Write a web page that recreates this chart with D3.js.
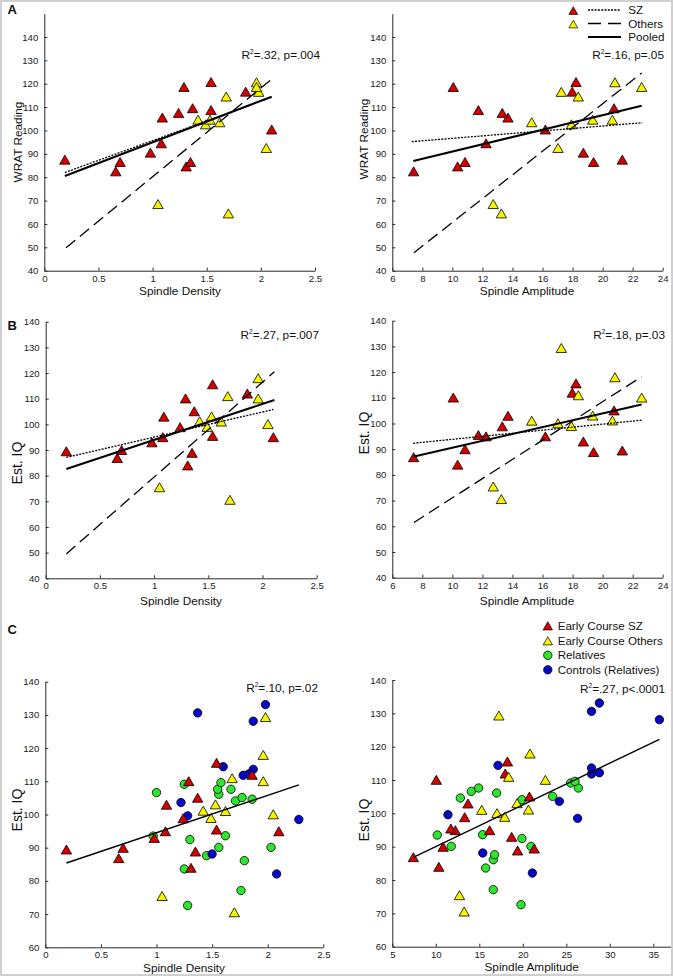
<!DOCTYPE html>
<html><head><meta charset="utf-8">
<script src="https://cdn.jsdelivr.net/npm/d3@7"></script>
<style>
html,body{margin:0;padding:0;background:#fff;}
svg{display:block;font-family:"Liberation Sans",Arial,Helvetica,sans-serif;}
</style></head>
<body>
<svg id="fig" width="673" height="976"></svg>
<script>
// ---------------- DATA ----------------
// Early course SZ subjects
const szDensity   = [0.19, 0.66, 0.70, 0.98, 1.08, 1.09, 1.24, 1.29, 1.31, 1.35, 1.37, 1.54, 1.54, 1.86, 2.10];
const szAmplitude = [21.31, 7.42, 10.84, 18.72, 12.24, 13.70, 13.32, 10.06, 10.35, 19.40, 20.76, 18.23, 11.73, 17.98, 16.19];
const szWrat      = [87.3, 82.3, 86.3, 90.3, 94.3, 105.3, 107.3, 118.4, 84.4, 86.3, 109.3, 120.5, 108.5, 116.4, 100.2];
const szIQ        = [89.3, 86.7, 89.8, 92.8, 94.8, 102.8, 98.7, 109.9, 83.8, 88.7, 104.9, 115.4, 95.3, 111.8, 94.8];
// Early course other-diagnosis subjects
const othDensity   = [1.05, 1.70, 2.05, 1.98, 1.49, 1.68, 1.62, 1.42, 1.53, 1.96, 1.96];
const othAmplitude = [12.72, 13.26, 17.03, 17.25, 17.92, 18.38, 15.28, 20.65, 19.34, 20.82, 22.60];
const othWrat      = [68.3, 64.3, 92.3, 116.3, 102.4, 114.3, 103.3, 104.4, 104.4, 120.4, 118.4];
const othIQ        = [75.3, 70.4, 99.9, 129.2, 98.8, 110.8, 100.9, 101.0, 102.9, 117.8, 109.9];
const othNotShownInBDensity = [3]; // subject not plotted in panel B (density)
// Relatives
const relDensity   = [1.28, 1.76, 1.25, 1.79, 1.45, 1.56, 2.03, 1.30, 0.97, 1.62, 1.71, 1.86, 1.77, 1.56, 1.00, 1.55, 1.67, 1.25, 1.58];
const relAmplitude = [19.79, 16.61, 15.73, 16.61, 16.76, 11.78, 20.94, 19.90, 10.17, 15.38, 19.90, 12.82, 23.43, 16.99, 14.08, 14.92, 26.38, 25.50, 26.00];
const relIQ        = [72.6, 77.1, 83.6, 86.1, 87.6, 90.1, 90.1, 92.45, 93.5, 93.6, 104.1, 104.6, 105.1, 106.1, 106.6, 107.6, 107.6, 109.1, 109.6];
// Controls (relatives)
const conDensity   = [2.08, 1.50, 2.28, 1.28, 1.22, 1.78, 1.83, 1.87, 1.60, 1.87, 1.37, 1.98];
const conAmplitude = [21.1, 15.4, 26.3, 11.4, 24.2, 27.9, 28.8, 27.9, 17.15, 35.7, 27.9, 28.8];
const conIQ        = [82.1, 88.1, 98.5, 99.6, 103.6, 111.8, 112.2, 113.6, 114.4, 128.1, 130.6, 133.1];

// Regression line endpoints [[x0,y0],[x1,y1]]
const fitA_dens = {sz:[[0.19,82.0],[2.10,114.2]], oth:[[0.20,49.8],[2.09,121.6]], pooled:[[0.19,80.5],[2.10,114.5]]};
const fitA_amp  = {sz:[[7.29,95.2],[22.64,103.3]], oth:[[7.44,47.7],[22.6,124.6]], pooled:[[7.40,86.9],[22.6,110.6]]};
const fitB_dens = {sz:[[0.19,87.1],[2.10,105.8]], oth:[[0.19,49.5],[2.11,120.5]], pooled:[[0.19,82.6],[2.11,109.5]]};
const fitB_amp  = {sz:[[7.38,92.3],[22.6,101.3]], oth:[[7.44,61.5],[22.6,118.2]], pooled:[[7.38,87.1],[22.6,107.4]]};
const fitC_dens = [[0.19,85.4],[2.28,108.9]];
const fitC_amp  = [[7.41,86.8],[35.7,122.2]];

// Ticks
const densityTicks = [0, 0.5, 1, 1.5, 2, 2.5];
const ampTicksAB   = [6, 8, 10, 12, 14, 16, 18, 20, 22, 24];
const ampTicksC    = [5, 10, 15, 20, 25, 30, 35];
const scoreTicksAB = [40, 50, 60, 70, 80, 90, 100, 110, 120, 130, 140];
const scoreTicksC  = [60, 70, 80, 90, 100, 110, 120, 130, 140];

// Stats text
const statsText = {Ad:[".32", "p=.004"], Aa:[".16", "p=.05"], Bd:[".27", "p=.007"], Ba:[".18", "p=.03"], Cd:[".10", "p=.02"], Ca:[".27", "p<.0001"]};

// Legend labels
const legendALabels = ["SZ", "Others", "Pooled"];
const legendCLabels = ["Early Course SZ", "Early Course Others", "Relatives", "Controls (Relatives)"];

// ---------------- STYLE ----------------
const RED = "#d40000", YEL = "#f6f600", GRN = "#2fe62f", BLU = "#0505cc";
const AXC = "#2a2a2a";
const svg = d3.select("#fig");
svg.append("rect").attr("x",0).attr("y",0).attr("width",673).attr("height",976).attr("fill","#fff");

const triPath = "M0,-5L5.2,4L-5.2,4Z";
const lineStyles = {
  sz: {w:1.3, dash:"2,1.3"},
  oth:{w:1.3, dash:"12,6"},
  pooled:{w:2, dash:null}
};

function makePanel(p){
  const g = svg.append("g");
  const x = d3.scaleLinear().domain(p.xd).range(p.xr);
  const y = d3.scaleLinear().domain(p.yd).range(p.yr);
  const y0 = p.yr[0], x0 = p.xr[0];
  const ax = d3.axisBottom(x).tickValues(p.xt).tickFormat(d=>String(d)).tickSizeInner(-3).tickSizeOuter(0).tickPadding(4);
  const ay = d3.axisLeft(y).tickValues(p.yt).tickFormat(d=>String(d)).tickSizeInner(-3).tickSizeOuter(0).tickPadding(6);
  const gx = g.append("g").attr("transform",`translate(0,${y0})`).call(ax);
  const gy = g.append("g").attr("transform",`translate(${x0},0)`).call(ay);
  [gx,gy].forEach(a=>{
    a.select(".domain").attr("stroke",AXC).attr("stroke-width",1);
    a.selectAll(".tick line").attr("stroke",AXC);
    a.selectAll(".tick text").attr("fill","#222").style("font-size","9.6px").style("font-family","Liberation Sans, Arial, sans-serif");
  });
  gx.selectAll(".tick text").attr("dy","0.72em");
  return {g,x,y};
}

function drawTriangles(P, xs, ys, fill, skip){
  const pts = xs.map((v,i)=>({x:v,y:ys[i],i})).filter(d=>!(skip||[]).includes(d.i));
  P.g.append("g").selectAll("path").data(pts).join("path")
    .attr("d",triPath)
    .attr("transform",d=>`translate(${P.x(d.x)},${P.y(d.y)})`)
    .attr("fill",fill).attr("stroke","#000").attr("stroke-width",0.8);
}
function drawCircles(P, xs, ys, fill){
  const pts = xs.map((v,i)=>({x:v,y:ys[i]}));
  P.g.append("g").selectAll("circle").data(pts).join("circle")
    .attr("cx",d=>P.x(d.x)).attr("cy",d=>P.y(d.y)).attr("r",4.2)
    .attr("fill",fill).attr("stroke","#000").attr("stroke-width",0.8);
}
function drawFit(P, seg, st){
  const l = P.g.append("line")
    .attr("x1",P.x(seg[0][0])).attr("y1",P.y(seg[0][1]))
    .attr("x2",P.x(seg[1][0])).attr("y2",P.y(seg[1][1]))
    .attr("stroke","#000").attr("stroke-width",st.w);
  if(st.dash) l.attr("stroke-dasharray",st.dash);
}
function stats(xEnd, yBase, s){
  const t = svg.append("text").attr("x",xEnd).attr("y",yBase).attr("text-anchor","end")
    .style("font-size","11.8px").attr("fill","#111");
  t.append("tspan").text("R");
  t.append("tspan").text("2").style("font-size","6.5px").attr("dy","-5");
  t.append("tspan").text("=" + s[0] + ", " + s[1]).attr("dy","5");
}
function xTitle(cx, yb, txt){
  svg.append("text").attr("x",cx).attr("y",yb).attr("text-anchor","middle")
    .style("font-size","11.8px").attr("fill","#111").text(txt);
}
function yTitle(cx, cy, txt, fs){
  svg.append("text").attr("transform",`translate(${cx},${cy}) rotate(-90)`).attr("text-anchor","middle")
    .attr("dy","0.36em").style("font-size",fs+"px").attr("fill","#111").text(txt);
}
function panelLetter(x, y, txt){
  svg.append("text").attr("x",x).attr("y",y).style("font-size","13px").style("font-weight","bold").attr("fill","#111").text(txt);
}

// ---------------- PANEL A ----------------
const Ad = makePanel({xd:[0,2.5], xr:[44.3,315], yd:[40,150], yr:[270.7,13.6], xt:densityTicks, yt:scoreTicksAB});
drawTriangles(Ad, szDensity, szWrat, RED);
drawTriangles(Ad, othDensity, othWrat, YEL);
drawFit(Ad, fitA_dens.oth, lineStyles.oth);
drawFit(Ad, fitA_dens.pooled, lineStyles.pooled);
drawFit(Ad, fitA_dens.sz, lineStyles.sz);

const Aa = makePanel({xd:[6,24], xr:[392.3,662.7], yd:[40,150], yr:[270.7,13.6], xt:ampTicksAB, yt:scoreTicksAB});
drawTriangles(Aa, szAmplitude, szWrat, RED);
drawTriangles(Aa, othAmplitude, othWrat, YEL);
drawFit(Aa, fitA_amp.oth, lineStyles.oth);
drawFit(Aa, fitA_amp.pooled, lineStyles.pooled);
drawFit(Aa, fitA_amp.sz, lineStyles.sz);

// ---------------- PANEL B ----------------
const Bd = makePanel({xd:[0,2.5], xr:[45.7,316.7], yd:[40,140], yr:[578.3,321.7], xt:densityTicks, yt:scoreTicksAB});
drawTriangles(Bd, szDensity, szIQ, RED);
drawTriangles(Bd, othDensity, othIQ, YEL, othNotShownInBDensity);
drawFit(Bd, fitB_dens.oth, lineStyles.oth);
drawFit(Bd, fitB_dens.pooled, lineStyles.pooled);
drawFit(Bd, fitB_dens.sz, lineStyles.sz);

const Ba = makePanel({xd:[6,24], xr:[392.3,662.7], yd:[40,140], yr:[577.7,320.7], xt:ampTicksAB, yt:scoreTicksAB});
drawTriangles(Ba, szAmplitude, szIQ, RED);
drawTriangles(Ba, othAmplitude, othIQ, YEL);
drawFit(Ba, fitB_amp.oth, lineStyles.oth);
drawFit(Ba, fitB_amp.pooled, lineStyles.pooled);
drawFit(Ba, fitB_amp.sz, lineStyles.sz);

// ---------------- PANEL C ----------------
const Cd = makePanel({xd:[0,2.5], xr:[45.3,323.3], yd:[60,140], yr:[947.3,681.7], xt:densityTicks, yt:scoreTicksC});
drawCircles(Cd, relDensity, relIQ, GRN);
drawCircles(Cd, conDensity, conIQ, BLU);
drawTriangles(Cd, szDensity, szIQ, RED);
drawTriangles(Cd, othDensity, othIQ, YEL);
drawFit(Cd, fitC_dens, {w:1.4, dash:null});

const Ca = makePanel({xd:[5,40], xr:[392.3,696.8], yd:[60,140], yr:[946.7,680], xt:ampTicksC, yt:scoreTicksC});
drawCircles(Ca, relAmplitude, relIQ, GRN);
drawCircles(Ca, conAmplitude, conIQ, BLU);
drawTriangles(Ca, szAmplitude, szIQ, RED);
drawTriangles(Ca, othAmplitude, othIQ, YEL);
drawFit(Ca, fitC_amp, {w:1.4, dash:null});

// ---------------- TEXT ----------------
stats(320, 59, statsText.Ad);
stats(664, 58.5, statsText.Aa);
stats(319, 339, statsText.Bd);
stats(665, 339, statsText.Ba);
stats(318, 692, statsText.Cd);
stats(665, 693, statsText.Ca);

xTitle(180, 295, "Spindle Density");
xTitle(527, 295, "Spindle Amplitude");
xTitle(181, 605, "Spindle Density");
xTitle(527, 605, "Spindle Amplitude");
xTitle(184, 971.5, "Spindle Density");
xTitle(531.7, 971, "Spindle Amplitude");

yTitle(18, 142, "WRAT Reading", 11.8);
yTitle(364, 139, "WRAT Reading", 11.8);
yTitle(17, 463, "Est. IQ", 14);
yTitle(364, 433, "Est. IQ", 14);
yTitle(17, 810, "Est. IQ", 14);
yTitle(364, 820, "Est. IQ", 14);

panelLetter(7.5, 14, "A");
panelLetter(7.5, 330, "B");
panelLetter(7.5, 634, "C");

// Legend A
const legA = svg.append("g");
const legARows = [10, 23.5, 37];
const legAKeys = ["sz","oth","pooled"];
legendALabels.forEach((lab,i)=>{
  const yy = legARows[i];
  if(i<2){
    legA.append("path").attr("d",triPath).attr("transform",`translate(573.3,${yy+1}) scale(0.85)`)
      .attr("fill", i===0?RED:YEL).attr("stroke","#000").attr("stroke-width",0.8);
  }
  const st = lineStyles[legAKeys[i]];
  const l = legA.append("line").attr("x1",588).attr("x2",621).attr("y1",yy).attr("y2",yy)
    .attr("stroke","#000").attr("stroke-width",st.w);
  if(st.dash) l.attr("stroke-dasharray", i===1?"13,7":st.dash);
  legA.append("text").attr("x",628.3).attr("y",yy).attr("dy","0.36em").style("font-size","11.6px").attr("fill","#111").text(lab);
});

// Legend C
const legC = svg.append("g");
const legCRows = [626.3, 641.3, 655.3, 669.8];
const legCFill = [RED, YEL, GRN, BLU];
legendCLabels.forEach((lab,i)=>{
  const yy = legCRows[i];
  if(i<2){
    legC.append("path").attr("d",triPath).attr("transform",`translate(547.8,${yy}) scale(0.9)`)
      .attr("fill",legCFill[i]).attr("stroke","#000").attr("stroke-width",0.8);
  } else {
    legC.append("circle").attr("cx",547.8).attr("cy",yy).attr("r",4.2)
      .attr("fill",legCFill[i]).attr("stroke","#000").attr("stroke-width",0.8);
  }
  legC.append("text").attr("x",557.7).attr("y",yy).attr("dy","0.36em").style("font-size","11.6px").attr("fill","#111").text(lab);
});

// Frame
svg.append("rect").attr("x",1).attr("y",1).attr("width",671).attr("height",974)
  .attr("fill","none").attr("stroke","#cfcfcf").attr("stroke-width",2);
</script>
</body></html>
